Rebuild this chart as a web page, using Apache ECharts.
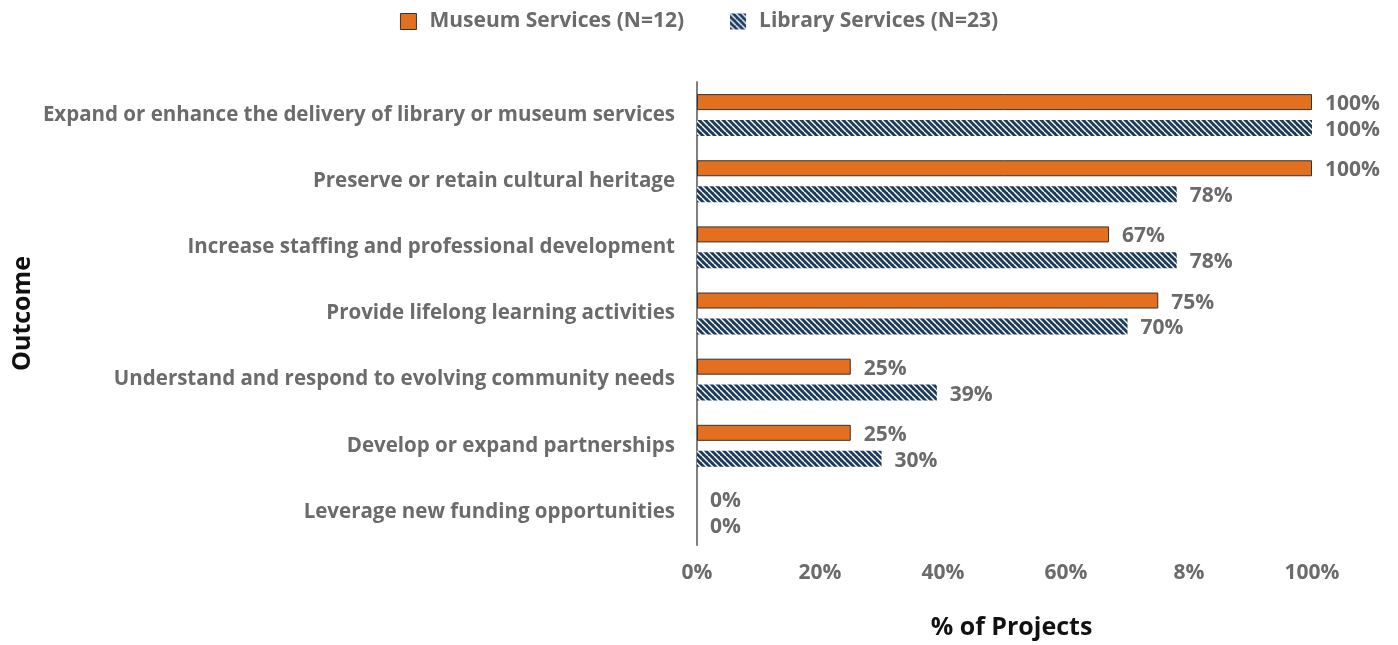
<!DOCTYPE html>
<html><head><meta charset="utf-8">
<script src="https://cdn.jsdelivr.net/npm/echarts@6/dist/echarts.min.js"></script>
<style>html,body{margin:0;padding:0;background:#fff}#c{width:1398px;height:645px}</style>
</head><body><div id="c"></div>
<script>
const categories = [
  "Expand or enhance the delivery of library or museum services",
  "Preserve or retain cultural heritage",
  "Increase staffing and professional development",
  "Provide lifelong learning activities",
  "Understand and respond to evolving community needs",
  "Develop or expand partnerships",
  "Leverage new funding opportunities"
];
const museumValues = [100, 100, 67, 75, 25, 25, 0];
const libraryValues = [100, 78, 78, 70, 39, 30, 0];
const seriesNames = ["Museum Services (N=12)", "Library Services (N=23)"];
const xTickLabels = ["0%", "20%", "40%", "60%", "8%", "100%"];

function makePattern() {
  const s = 6;
  const cv = document.createElement('canvas');
  cv.width = s; cv.height = s;
  const ctx = cv.getContext('2d');
  ctx.fillStyle = '#1b3a63';
  ctx.fillRect(0, 0, s, s);
  ctx.strokeStyle = '#ffffff';
  ctx.lineWidth = 1.4;
  for (let k = -1; k <= 1; k++) {
    ctx.beginPath();
    ctx.moveTo(k * s, 0);
    ctx.lineTo(k * s + s, s);
    ctx.stroke();
  }
  return cv;
}
const pattern = { image: makePattern(), repeat: 'repeat' };

const FONT = '"Open Sans", sans-serif';
const grey = '#6b6b6b';
const labelStyle = { show: true, position: 'right', distance: 13, offset: [0, 2], formatter: '{c}%', color: grey, fontSize: 21, fontWeight: 'bold', fontFamily: FONT };
const museumData = museumValues.map(v => v === 0 ? { value: v, itemStyle: { borderWidth: 0 } } : v);

const chart = echarts.init(document.getElementById('c'));
chart.setOption({
  animation: false,
  textStyle: { fontFamily: FONT },
  legend: {
    top: 6, left: 'center', itemGap: 46, itemWidth: 16, itemHeight: 16,
    textStyle: { color: grey, fontSize: 21, fontWeight: 'bold', fontFamily: FONT, padding: [0, 0, 0, 8] },
    data: [
      { name: seriesNames[0], icon: 'rect', itemStyle: { color: '#e2701f', borderColor: '#333', borderWidth: 1 } },
      { name: seriesNames[1], icon: 'rect', itemStyle: { color: pattern } }
    ]
  },
  grid: { left: 697, right: 86, top: 82, bottom: 97, containLabel: false },
  xAxis: {
    type: 'value', min: 0, max: 100, interval: 20,
    axisLine: { show: false }, axisTick: { show: false }, splitLine: { show: false },
    axisLabel: {
      color: grey, fontSize: 21, fontWeight: 'bold', fontFamily: FONT, margin: 18,
      formatter: (v) => xTickLabels[Math.round(v / 20)]
    },
    name: '% of Projects', nameLocation: 'middle', nameGap: 70,
    nameTextStyle: { color: '#111', fontSize: 25, fontWeight: 'bold', fontFamily: FONT, padding: [0, 0, 0, 14] },
  },
  yAxis: {
    type: 'category', data: categories, inverse: true,
    axisLine: { show: true, lineStyle: { color: '#7f7f7f', width: 2 } },
    axisTick: { show: false },
    axisLabel: { color: grey, fontSize: 20.5, fontWeight: 'bold', fontFamily: FONT, margin: 22, padding: [0, 0, 0, 0], verticalAlign: 'middle', lineHeight: 20, offset: [0, 3] },
    name: 'Outcome', nameLocation: 'middle', nameGap: 662, nameRotate: 90,
    nameTextStyle: { color: '#111', fontSize: 25, fontWeight: 'bold', fontFamily: FONT },
  },
  series: [
    {
      name: seriesNames[0], type: 'bar', data: museumData, barWidth: 16, barGap: '62%',
      itemStyle: { color: '#e2701f', borderColor: '#333', borderWidth: 1 },
      label: labelStyle
    },
    {
      name: seriesNames[1], type: 'bar', data: libraryValues, barWidth: 16,
      itemStyle: { color: pattern },
      label: labelStyle
    }
  ]
});
</script></body></html>
